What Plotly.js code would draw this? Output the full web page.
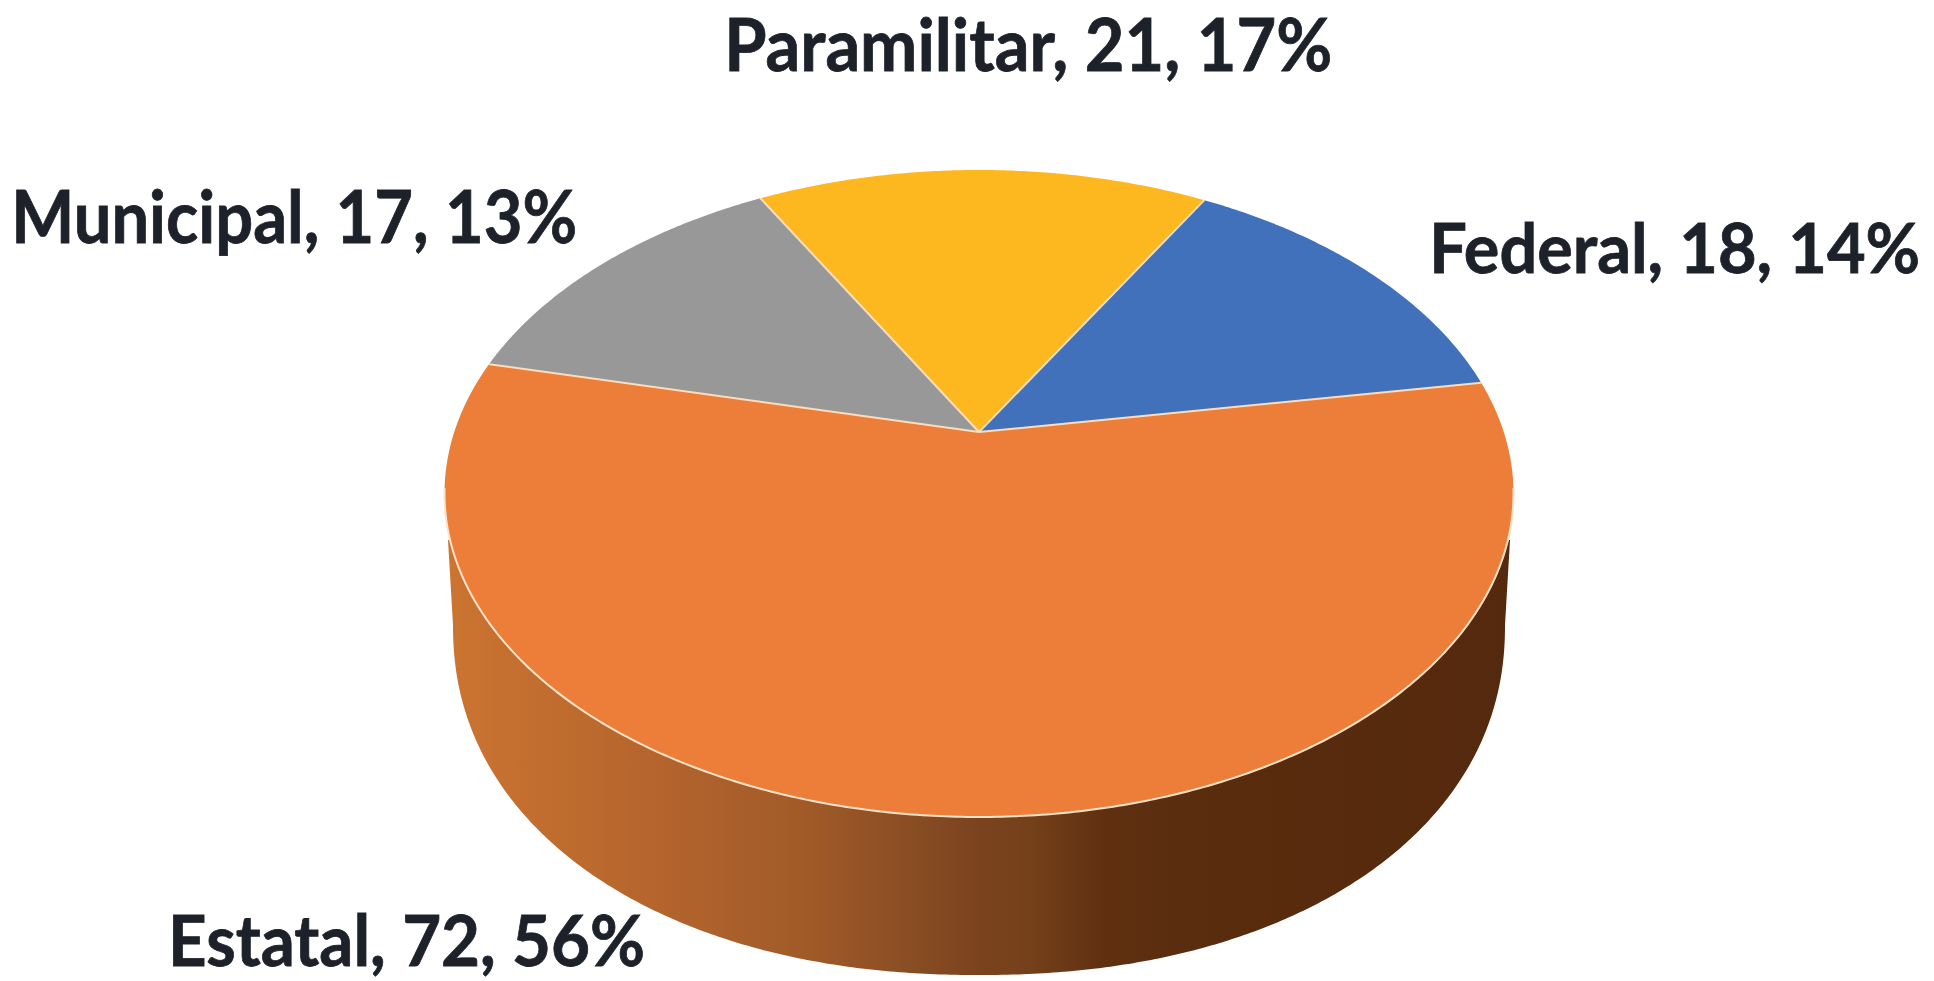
<!DOCTYPE html>
<html>
<head>
<meta charset="utf-8">
<script src="https://cdn.plot.ly/plotly-3.0.1.min.js"></script>
<style>html,body{margin:0;padding:0;background:#fff}#chart{width:1934px;height:981px}
.annotation-text{stroke:#1D2129;stroke-width:0.8px}</style>
</head>
<body>
<div id="chart"></div>
<script>
// Data
const categories = ['Federal', 'Estatal', 'Municipal', 'Paramilitar'];
const seriesValues = [18, 72, 17, 21];
const percentLabels = [14, 56, 13, 17];
const sliceColors = ['#4171BA', '#ED7E39', '#989898', '#FDB71F'];

// Perspective disc: a tilted circle drawn as an ellipse whose centre sits above its middle
const top3d = {cx: 979, cy: 493.5, rx: 534.5, ry: 323.5, apexLift: 0.19, startDeg: 60};
const base3d = {cx: 979, cy: 625, rx: 526, ry: 350, squareness: 2.15};
const labelPlace = {
  Federal:     {x: 1674.5, y: 246, size: 68, width: 491},
  Estatal:     {x: 406.5,  y: 939, size: 70, width: 477},
  Municipal:   {x: 294,    y: 215, size: 73, width: 566},
  Paramilitar: {x: 1028,   y: 43,  size: 73, width: 608}
};

const rad = d => d * Math.PI / 180;
function project(deg) {
  const b = top3d.apexLift, t = rad(deg);
  const w = 1 + b * Math.sin(t);
  return [top3d.cx + top3d.rx * Math.cos(t) * Math.sqrt(1 - b * b) / w,
          top3d.cy - top3d.ry * (Math.sin(t) + b) / w];
}
const apex = [top3d.cx, top3d.cy - top3d.ry * top3d.apexLift];
const total = seriesValues.reduce((a, v) => a + v, 0);

function arc(fromDeg, toDeg) {
  const n = Math.max(2, Math.ceil(Math.abs(toDeg - fromDeg) * 2));
  const xs = [], ys = [];
  for (let i = 0; i <= n; i++) {
    const p = project(fromDeg + (toDeg - fromDeg) * i / n);
    xs.push(p[0]); ys.push(p[1]);
  }
  return [xs, ys];
}

const traces = [];

// Side wall with horizontal gradient
const wx = [top3d.cx - 531], wy = [540];
const pow = 2 / base3d.squareness;
for (let d = 180; d <= 360; d += 0.5) {
  const c = Math.cos(rad(d)), s = Math.sin(rad(d));
  wx.push(base3d.cx + base3d.rx * Math.sign(c) * Math.pow(Math.abs(c), pow));
  wy.push(base3d.cy - base3d.ry * Math.sign(s) * Math.pow(Math.abs(s), pow));
}
wx.push(top3d.cx + 531); wy.push(540);
traces.push({
  type: 'scatter', mode: 'lines', x: wx, y: wy, fill: 'toself', hoverinfo: 'skip',
  line: {width: 0, simplify: false},
  fillgradient: {type: 'horizontal', colorscale: [
    [0, '#CC7431'], [0.23, '#B0622C'], [0.34, '#A05A28'], [0.43, '#8B4E24'],
    [0.5, '#7A431E'], [0.55, '#74401A'], [0.62, '#5F2F10'], [0.72, '#592C0E'], [1, '#55290D']
  ]}
});

// Slices
let angle = top3d.startDeg;
const spokeX = [], spokeY = [];
categories.forEach((name, i) => {
  const sweep = seriesValues[i] / total * 360;
  const [ax, ay] = arc(angle, angle - sweep);
  traces.push({
    type: 'scatter', mode: 'lines', name: name,
    x: [apex[0], ...ax, apex[0]], y: [apex[1], ...ay, apex[1]],
    fill: 'toself', fillcolor: sliceColors[i], line: {width: 0, simplify: false},
    hoverinfo: 'text', text: name + ', ' + seriesValues[i] + ', ' + percentLabels[i] + '%'
  });
  spokeX.push(apex[0], ax[0], null);
  spokeY.push(apex[1], ay[0], null);
  angle -= sweep;
});

// Light slice borders and the bright front rim
traces.push({type: 'scatter', mode: 'lines', x: spokeX, y: spokeY, hoverinfo: 'skip',
  line: {color: '#F9DDBE', width: 2}});
const [rimX, rimY] = arc(190, 350);
traces.push({type: 'scatter', mode: 'lines', x: rimX, y: rimY, hoverinfo: 'skip',
  line: {color: '#FBE3CB', width: 2, simplify: false}});

const annotations = categories.map((name, i) => ({
  x: labelPlace[name].x, y: labelPlace[name].y, xref: 'x', yref: 'y',
  xanchor: 'center', yanchor: 'middle', showarrow: false, borderpad: 0,
  text: name + ', ' + seriesValues[i] + ', ' + percentLabels[i] + '%',
  font: {family: 'Lato, "Liberation Sans", sans-serif', size: labelPlace[name].size, color: '#1D2129', weight: 700}
}));

Plotly.newPlot('chart', traces, {
  width: 1934, height: 981,
  margin: {l: 0, r: 0, t: 0, b: 0},
  paper_bgcolor: '#fff', plot_bgcolor: '#fff',
  showlegend: false,
  xaxis: {range: [0, 1934], visible: false, fixedrange: true},
  yaxis: {range: [981, 0], visible: false, fixedrange: true},
  annotations: annotations
}, {displayModeBar: false}).then(gd => {
  // The reference type is condensed: fit each label to its measured width
  gd.querySelectorAll('.annotation-text').forEach(t => {
    const name = categories.find(c => t.textContent.startsWith(c));
    t.setAttribute('textLength', labelPlace[name].width);
    t.setAttribute('lengthAdjust', 'spacingAndGlyphs');
  });
});
</script>
</body>
</html>
